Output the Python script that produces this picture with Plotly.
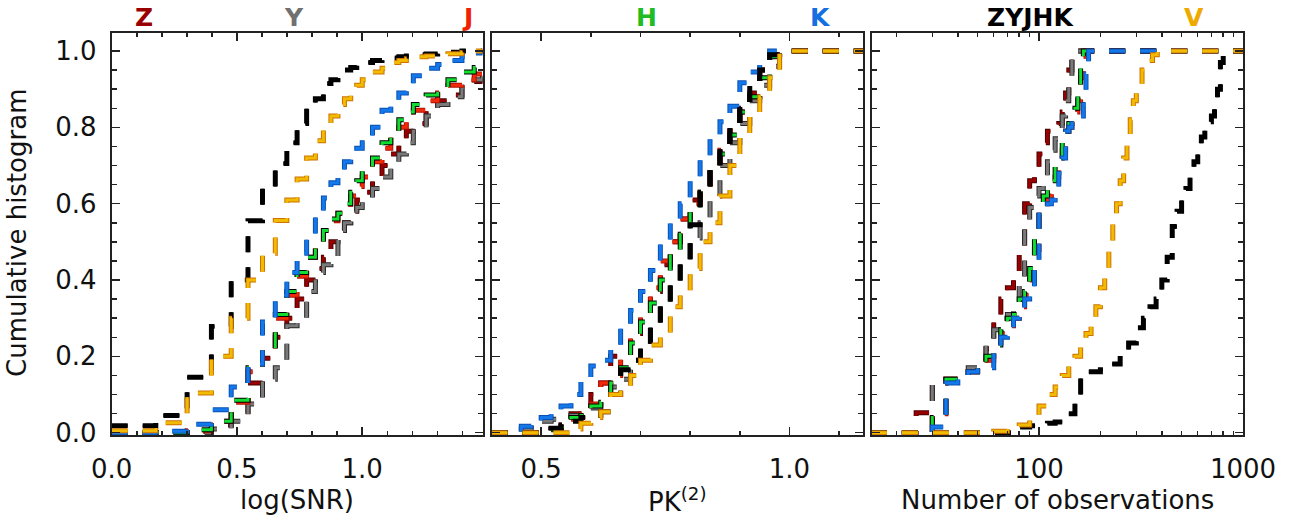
import plotly.graph_objects as go

# ------------------------------------------------------------------
# DATA
# ------------------------------------------------------------------
# Panel 1: cumulative histograms vs log(SNR); step edges (log10 of SNR bins)
LOGSNR_EDGES = [0.0, 0.176, 0.301, 0.398, 0.477, 0.544, 0.602, 0.653, 0.699, 0.740,
                0.778, 0.813, 0.845, 0.875, 0.903, 0.929, 0.954, 0.978, 1.0, 1.041,
                1.079, 1.114, 1.146, 1.176, 1.204, 1.255, 1.301, 1.342, 1.398, 1.447, 1.48]
SNR_Z = [0, 0, 0.003, 0.02, 0.055, 0.13, 0.195, 0.25, 0.30, 0.35, 0.40, 0.43, 0.46, 0.50, 0.53,
         0.55, 0.58, 0.61, 0.63, 0.66, 0.70, 0.73, 0.76, 0.79, 0.81, 0.845, 0.87, 0.885, 0.905, 0.92, 0.93]
SNR_Y = [0, 0, 0, 0.01, 0.03, 0.075, 0.14, 0.17, 0.28, 0.30, 0.37, 0.42, 0.44, 0.46, 0.53,
         0.55, 0.57, 0.59, 0.61, 0.64, 0.67, 0.70, 0.73, 0.76, 0.79, 0.83, 0.86, 0.88, 0.905, 0.925, 0.935]
SNR_J = [0, 0, 0.005, 0.03, 0.08, 0.16, 0.22, 0.30, 0.36, 0.41, 0.46, 0.50, 0.53, 0.555, 0.575,
         0.59, 0.62, 0.645, 0.67, 0.71, 0.745, 0.775, 0.80, 0.825, 0.845, 0.87, 0.89, 0.91, 0.925, 0.94, 0.945]
SNR_H = [0, 0, 0.008, 0.03, 0.085, 0.17, 0.22, 0.31, 0.37, 0.42, 0.46, 0.50, 0.53, 0.56, 0.575,
         0.60, 0.63, 0.66, 0.685, 0.72, 0.76, 0.79, 0.82, 0.84, 0.86, 0.885, 0.90, 0.925, 0.945, 0.957, 0.96]
SNR_K = [0, 0.004, 0.022, 0.06, 0.12, 0.18, 0.29, 0.36, 0.42, 0.47, 0.51, 0.57, 0.615, 0.655, 0.685,
         0.71, 0.73, 0.745, 0.76, 0.80, 0.845, 0.87, 0.89, 0.91, 0.935, 0.955, 0.965, 0.975, 0.985, 0.995, 1.0]
SNR_ALL = [0.018, 0.045, 0.145, 0.278, 0.40, 0.555, 0.645, 0.705, 0.76, 0.81, 0.86, 0.875, 0.915, 0.925, 0.94,
           0.95, 0.957, 0.965, 0.97, 0.975, 0.978, 0.982, 0.985, 0.987, 0.99, 0.992, 0.994, 0.997, 1.0, 1.0, 1.0]
SNR_V = [0.005, 0.026, 0.104, 0.20, 0.30, 0.40, 0.47, 0.556, 0.61, 0.665, 0.72, 0.765, 0.80, 0.83, 0.86,
         0.875, 0.895, 0.91, 0.925, 0.945, 0.955, 0.97, 0.975, 0.98, 0.985, 0.987, 0.99, 0.993, 0.996, 1.0, 1.0]

# Panel 2: cumulative histograms vs PK(2); bin edges
PK_EDGES = [0.40, 0.42, 0.44, 0.46, 0.48, 0.50, 0.52, 0.54, 0.56, 0.58, 0.60, 0.62, 0.64, 0.66, 0.68,
            0.70, 0.72, 0.74, 0.76, 0.78, 0.80, 0.82, 0.84, 0.86, 0.88, 0.90, 0.92, 0.94, 0.96, 0.98, 1.15]
PK_Z = [0, 0, 0, 0, 0, 0.005, 0.01, 0.03, 0.05, 0.07, 0.10, 0.13, 0.20, 0.21, 0.26,
        0.32, 0.37, 0.44, 0.50, 0.56, 0.61, 0.65, 0.70, 0.75, 0.79, 0.85, 0.89, 0.95, 0.99, 1.0, 1.0]
PK_Y = [0, 0, 0, 0.01, 0.02, 0.03, 0.035, 0.04, 0.045, 0.05, 0.065, 0.09, 0.12, 0.14, 0.19,
        0.23, 0.28, 0.34, 0.39, 0.45, 0.51, 0.55, 0.62, 0.70, 0.76, 0.81, 0.87, 0.91, 0.96, 1.0, 1.0]
PK_J = [0, 0, 0, 0, 0, 0.005, 0.01, 0.02, 0.035, 0.05, 0.075, 0.13, 0.15, 0.20, 0.25,
        0.31, 0.38, 0.45, 0.50, 0.56, 0.60, 0.63, 0.69, 0.74, 0.79, 0.84, 0.88, 0.95, 0.99, 1.0, 1.0]
PK_H = [0, 0, 0, 0, 0, 0, 0.008, 0.015, 0.04, 0.045, 0.07, 0.08, 0.13, 0.17, 0.235,
        0.29, 0.34, 0.40, 0.48, 0.52, 0.59, 0.64, 0.69, 0.73, 0.78, 0.84, 0.88, 0.93, 0.985, 1.0, 1.0]
PK_K = [0, 0, 0, 0.017, 0.025, 0.04, 0.05, 0.07, 0.10, 0.14, 0.175, 0.19, 0.23, 0.28, 0.32,
        0.37, 0.425, 0.50, 0.55, 0.60, 0.67, 0.725, 0.77, 0.815, 0.855, 0.917, 0.945, 0.975, 1.0, 1.0, 1.0]
PK_ALL = [0, 0, 0, 0, 0, 0.005, 0.012, 0.02, 0.03, 0.04, 0.045, 0.055, 0.10, 0.165, 0.19,
          0.23, 0.28, 0.335, 0.39, 0.45, 0.545, 0.63, 0.69, 0.75, 0.80, 0.86, 0.91, 0.95, 0.99, 1.0, 1.0]
PK_V = [0, 0, 0, 0, 0, 0, 0, 0, 0.01, 0.025, 0.04, 0.055, 0.10, 0.11, 0.15,
        0.19, 0.23, 0.26, 0.33, 0.37, 0.43, 0.50, 0.55, 0.62, 0.70, 0.78, 0.83, 0.88, 0.93, 1.0, 1.0]

# Panel 3: cumulative histograms vs number of observations
NOBS_EDGES = [15, 20, 25, 30, 35, 40, 45, 50, 55, 60, 65, 70, 75, 80, 85, 90, 95, 100,
              105, 110, 115, 120, 125, 130, 135, 140, 145, 150, 155, 160, 165, 170, 175, 180, 1000]
NOBS_Z = [0, 0, 0.052, 0.13, 0.14, 0.15, 0.16, 0.18, 0.22, 0.29, 0.35, 0.38, 0.42, 0.47, 0.60, 0.66, 0.68, 0.73,
          0.76, 0.79, 0.79, 0.80, 0.81, 0.84, 0.89, 0.95, 1.0, 1.0, 1.0, 1.0, 1.0, 1.0, 1.0, 1.0, 1.0]
NOBS_Y = [0, 0, 0, 0.13, 0.14, 0.15, 0.17, 0.19, 0.23, 0.27, 0.30, 0.31, 0.33, 0.39, 0.55, 0.59, 0.62, 0.64,
          0.67, 0.71, 0.74, 0.77, 0.79, 0.83, 0.87, 0.93, 0.99, 1.0, 1.0, 1.0, 1.0, 1.0, 1.0, 1.0, 1.0]
NOBS_J = [0, 0, 0, 0.05, 0.14, 0.15, 0.16, 0.17, 0.19, 0.22, 0.26, 0.28, 0.30, 0.33, 0.36, 0.40, 0.48, 0.57,
          0.60, 0.62, 0.64, 0.67, 0.70, 0.74, 0.79, 0.80, 0.82, 0.84, 0.87, 0.93, 0.97, 1.0, 1.0, 1.0, 1.0]
NOBS_H = [0, 0, 0, 0.04, 0.14, 0.15, 0.16, 0.18, 0.20, 0.23, 0.27, 0.30, 0.31, 0.35, 0.37, 0.43, 0.51, 0.57,
          0.62, 0.64, 0.66, 0.70, 0.72, 0.76, 0.79, 0.81, 0.83, 0.85, 0.89, 0.96, 1.0, 1.0, 1.0, 1.0, 1.0]
NOBS_K = [0, 0, 0, 0.015, 0.13, 0.14, 0.16, 0.17, 0.17, 0.21, 0.25, 0.26, 0.30, 0.31, 0.35, 0.36, 0.43, 0.59,
          0.59, 0.60, 0.61, 0.64, 0.68, 0.72, 0.79, 0.80, 0.81, 0.81, 0.82, 0.83, 0.86, 0.94, 1.0, 1.0, 1.0]
NOBS_V_EDGES = [15, 60, 70, 80, 90, 100, 110, 120, 130, 140, 150, 160, 170, 180, 190, 200,
                210, 220, 230, 240, 250, 260, 270, 280, 290, 300, 320, 340, 360, 380, 1000]
NOBS_V = [0, 0.004, 0.01, 0.02, 0.045, 0.07, 0.10, 0.12, 0.15, 0.175, 0.20, 0.23, 0.26, 0.30, 0.33, 0.38,
          0.42, 0.48, 0.55, 0.60, 0.66, 0.72, 0.76, 0.82, 0.87, 0.90, 0.95, 0.975, 0.99, 1.0, 1.0]
NOBS_ALL_EDGES = [15, 80, 90, 100, 110, 120, 130, 140, 150, 160, 175, 200, 225, 250, 275, 300, 325, 350,
                  375, 400, 425, 450, 475, 500, 525, 550, 575, 600, 625, 650, 675, 700, 725, 750, 775, 800, 1000]
NOBS_ALL = [0, 0.015, 0.018, 0.02, 0.025, 0.028, 0.03, 0.05, 0.10, 0.15, 0.16, 0.165, 0.18, 0.205, 0.235,
            0.275, 0.30, 0.33, 0.35, 0.40, 0.46, 0.54, 0.58, 0.61, 0.64, 0.67, 0.71, 0.75, 0.775, 0.80,
            0.815, 0.83, 0.86, 0.90, 0.97, 1.0, 1.0]

Y_TICKS = [0.0, 0.2, 0.4, 0.6, 0.8, 1.0]
Y_TICKTEXT = ["0.0", "0.2", "0.4", "0.6", "0.8", "1.0"]
X1_TICKS, X1_TEXT = [0.0, 0.5, 1.0], ["0.0", "0.5", "1.0"]
X2_TICKS, X2_TEXT = [0.5, 1.0], ["0.5", "1.0"]
X3_TICKS, X3_TEXT = [100, 1000], ["100", "1000"]
X3_MINOR = [20, 30, 40, 50, 60, 70, 80, 90, 200, 300, 400, 500, 600, 700, 800, 900]

# series styling: (main colour, edge colour)
STYLE = {
    "Z": ("#990000", "#4a0000"),
    "Y": ("#7a7a7a", "#2a2a2a"),
    "J": ("#f02a0a", "#b01000"),
    "H": ("#10dd30", "#000000"),
    "K": ("#1478ea", "#0a50b0"),
    "ZYJHK": ("#000000", "#000000"),
    "V": ("#f0bb00", "#d07000"),
}
LABEL_COLORS = {"Z": "#990000", "Y": "#707070", "J": "#ee2200", "H": "#22bb22",
                "K": "#1470e0", "ZYJHK": "#000000", "V": "#eeaa00"}

PANELS = [
    ("x", "y", [("Z", LOGSNR_EDGES, SNR_Z), ("Y", LOGSNR_EDGES, SNR_Y), ("J", LOGSNR_EDGES, SNR_J),
                ("H", LOGSNR_EDGES, SNR_H), ("K", LOGSNR_EDGES, SNR_K), ("ZYJHK", LOGSNR_EDGES, SNR_ALL),
                ("V", LOGSNR_EDGES, SNR_V)]),
    ("x2", "y2", [("Z", PK_EDGES, PK_Z), ("Y", PK_EDGES, PK_Y), ("J", PK_EDGES, PK_J),
                  ("H", PK_EDGES, PK_H), ("K", PK_EDGES, PK_K), ("ZYJHK", PK_EDGES, PK_ALL),
                  ("V", PK_EDGES, PK_V)]),
    ("x3", "y3", [("Z", NOBS_EDGES, NOBS_Z), ("Y", NOBS_EDGES, NOBS_Y), ("J", NOBS_EDGES, NOBS_J),
                  ("H", NOBS_EDGES, NOBS_H), ("K", NOBS_EDGES, NOBS_K),
                  ("ZYJHK", NOBS_ALL_EDGES, NOBS_ALL), ("V", NOBS_V_EDGES, NOBS_V)]),
]

# ------------------------------------------------------------------
W, H = 1297, 522
FONT = "DejaVu Sans"
DASH = "16px,15px"

fig = go.Figure()
for xa, ya, series in PANELS:
    for name, xs, ys in series:
        col, edge = STYLE[name]
        fig.add_trace(go.Scatter(x=xs, y=ys, mode="lines", xaxis=xa, yaxis=ya,
                                 line=dict(shape="hv", color=edge, width=5, dash=DASH),
                                 showlegend=False, hoverinfo="skip"))
        fig.add_trace(go.Scatter(x=xs, y=ys, mode="lines", xaxis=xa, yaxis=ya, name=name,
                                 line=dict(shape="hv", color=col, width=3, dash=DASH),
                                 showlegend=False))


def px2fx(p):
    return p / W


def px2fy(p):
    return 1 - p / H


YDOM = [px2fy(435), px2fy(32.7)]
XDOMS = [[px2fx(111.7), px2fx(482.5)], [px2fx(491.5), px2fx(863)], [px2fx(871.5), px2fx(1243)]]

axis_common = dict(showline=True, linewidth=2, linecolor="#222", mirror="ticks",
                   ticks="inside", ticklen=8, tickwidth=1.5, tickcolor="#222",
                   showgrid=False, zeroline=False, automargin=False,
                   tickfont=dict(family=FONT, size=26, color="#111"))

yaxis_common = dict(axis_common, range=[-0.006, 1.048], tickmode="array",
                    tickvals=Y_TICKS, ticktext=Y_TICKTEXT, domain=YDOM,
                    minor=dict(dtick=0.05, tick0=0, ticklen=5, tickwidth=1.5,
                               tickcolor="#222", ticks="inside"),
                    ticklabelstandoff=8)

fig.update_layout(
    width=W, height=H, margin=dict(l=0, r=0, t=0, b=0, autoexpand=False),
    paper_bgcolor="white", plot_bgcolor="white",
    xaxis=dict(axis_common, domain=XDOMS[0], range=[0, 1.48], tickmode="array",
               tickvals=X1_TICKS, ticktext=X1_TEXT, anchor="y",
               minor=dict(dtick=0.1, tick0=0, ticklen=4, tickwidth=1.5,
                          tickcolor="#222", ticks="inside"),
               ticklabelstandoff=10),
    xaxis2=dict(axis_common, domain=XDOMS[1], range=[0.4, 1.148], tickmode="array",
                tickvals=X2_TICKS, ticktext=X2_TEXT, anchor="y2",
                minor=dict(dtick=0.1, tick0=0.4, ticklen=4, tickwidth=1.5,
                           tickcolor="#222", ticks="inside"),
                ticklabelstandoff=10),
    xaxis3=dict(axis_common, domain=XDOMS[2], type="log", range=[1.179, 3.0],
                tickmode="array", tickvals=X3_TICKS, ticktext=X3_TEXT, anchor="y3",
                minor=dict(tickmode="array", tickvals=X3_MINOR, ticklen=4, tickwidth=1.5,
                           tickcolor="#222", ticks="inside"),
                ticklabelstandoff=10),
    yaxis=dict(yaxis_common, anchor="x"),
    yaxis2=dict(yaxis_common, anchor="x2", showticklabels=False),
    yaxis3=dict(yaxis_common, anchor="x3", showticklabels=False),
)

annots = []
# band labels above panels
for txt, cx in [("Z", 144), ("Y", 294), ("J", 467.5), ("H", 646),
                ("K", 820), ("ZYJHK", 1030), ("V", 1194)]:
    annots.append(dict(text=txt, x=px2fx(cx), y=px2fy(17), xref="paper", yref="paper",
                       showarrow=False, xanchor="center", yanchor="middle",
                       font=dict(family=FONT, size=25, color=LABEL_COLORS[txt], weight="bold")))
# axis titles
for txt, cx in [("log(SNR)", 297), ("PK<sup>(2)</sup>", 677), ("Number of observations", 1057)]:
    annots.append(dict(text=txt, x=px2fx(cx), y=px2fy(500), xref="paper", yref="paper",
                       showarrow=False, xanchor="center", yanchor="middle",
                       font=dict(family=FONT, size=26, color="#111")))
annots.append(dict(text="Cumulative histogram", x=px2fx(17), y=px2fy(233), xref="paper",
                   yref="paper", showarrow=False, textangle=-90, xanchor="center",
                   yanchor="middle", font=dict(family=FONT, size=26, color="#111")))
fig.update_layout(annotations=annots)

# remove the default page margin so the figure fills the browser window exactly
fig.write_html("out.html",
               config={"displayModeBar": False, "staticPlot": True},
               post_script="document.body.style.margin='0';document.body.style.overflow='hidden';")
